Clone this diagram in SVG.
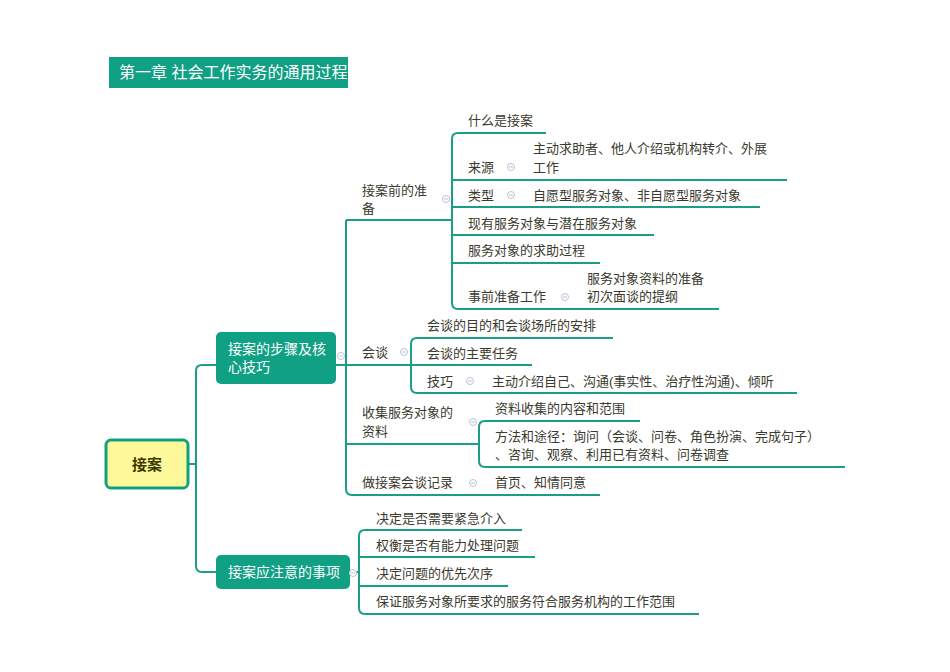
<svg xmlns="http://www.w3.org/2000/svg" width="950" height="672" viewBox="0 0 950 672">
<style>
text{font-family:"Liberation Sans","Noto Sans CJK SC",sans-serif;font-size:13px;fill:#3a3a2e}
.w{fill:#fff;font-size:14px}
.ln{fill:none;stroke:#1a9e86;stroke-width:2}
.ic{fill:#fff;stroke:#b8c4d8;stroke-width:1}
.box{fill:#10a084}
</style>
<defs><g id="i"><circle r="3.5" class="ic"/><line x1="-2" x2="2" y1="0" y2="0" stroke="#b8c4d8"/></g></defs>
<rect width="950" height="672" fill="#fff"/>
<g id="title"><rect x="109" y="57" width="239" height="31" class="box"/><text x="119" y="78" class="w" style="font-size:16px">第一章 社会工作实务的通用过程</text></g>
<g id="connectors">
<path class="ln" d="M189,464H196M216,365H202Q196,365 196,371V566Q196,572 202,572H216"/>
<path class="ln" d="M336,365H346M346,220V489Q346,495 352,495H600M346,220H452M346,365H411M346,444H479"/>
<path class="ln" d="M546,133H458Q452,133 452,139V303Q452,309 458,309H719M452,180H787M452,207H760M452,235H654M452,263H600"/>
<path class="ln" d="M613,338H417Q411,338 411,344V387Q411,393 417,393H797M411,365H532"/>
<path class="ln" d="M640,421H485Q479,421 479,427V461Q479,467 485,467H845"/>
<path class="ln" d="M350,572H359M522,530H365Q359,530 359,536V608Q359,614 365,614H699M359,557H535M359,586H508"/>
</g>
<g id="root"><rect x="106" y="440" width="82" height="48" rx="5" fill="#fdf99b" stroke="#14a07f" stroke-width="3"/><text x="147" y="470" text-anchor="middle" style="font-size:15px;font-weight:bold;fill:#3a3a00">接案</text></g>
<g id="n1"><rect x="216" y="332" width="120" height="52" rx="5" class="box"/><text x="228" y="354" class="w">接案的步骤及核</text><text x="228" y="372" class="w">心技巧</text><use href="#i" x="341" y="356"/></g>
<g id="n2"><rect x="216" y="555" width="134" height="34" rx="5" class="box"/><text x="228" y="577" class="w">接案应注意的事项</text><use href="#i" x="353" y="573"/></g>
<g id="n11"><text x="362" y="195">接案前的准</text><text x="362" y="213">备</text><use href="#i" x="446" y="199"/>
<text x="468" y="125">什么是接案</text>
<text x="468" y="172">来源</text><use href="#i" x="511" y="167"/><text x="533" y="153">主动求助者、他人介绍或机构转介、外展</text><text x="533" y="172">工作</text>
<text x="468" y="200">类型</text><use href="#i" x="511" y="195"/><text x="533" y="200">自愿型服务对象、非自愿型服务对象</text>
<text x="468" y="228">现有服务对象与潜在服务对象</text>
<text x="468" y="255">服务对象的求助过程</text>
<text x="468" y="301">事前准备工作</text><use href="#i" x="565" y="297"/><text x="587" y="283">服务对象资料的准备</text><text x="587" y="301">初次面谈的提纲</text></g>
<g id="n12"><text x="362" y="357">会谈</text><use href="#i" x="404" y="352"/>
<text x="427" y="330">会谈的目的和会谈场所的安排</text><text x="427" y="358">会谈的主要任务</text>
<text x="427" y="386">技巧</text><use href="#i" x="470" y="381"/><text x="492" y="386">主动介绍自己、沟通(事实性、治疗性沟通)、倾听</text></g>
<g id="n13"><text x="362" y="417">收集服务对象的</text><text x="362" y="436">资料</text><use href="#i" x="473" y="422"/>
<text x="495" y="413">资料收集的内容和范围</text><text x="495" y="441">方法和途径：询问（会谈、问卷、角色扮演、完成句子）</text><text x="495" y="459">、咨询、观察、利用已有资料、问卷调查</text></g>
<g id="n14"><text x="362" y="487">做接案会谈记录</text><use href="#i" x="473" y="483"/><text x="495" y="487">首页、知情同意</text></g>
<g id="n21"><text x="376" y="523">决定是否需要紧急介入</text><text x="376" y="550">权衡是否有能力处理问题</text><text x="376" y="578">决定问题的优先次序</text><text x="376" y="606">保证服务对象所要求的服务符合服务机构的工作范围</text></g>
</svg>
